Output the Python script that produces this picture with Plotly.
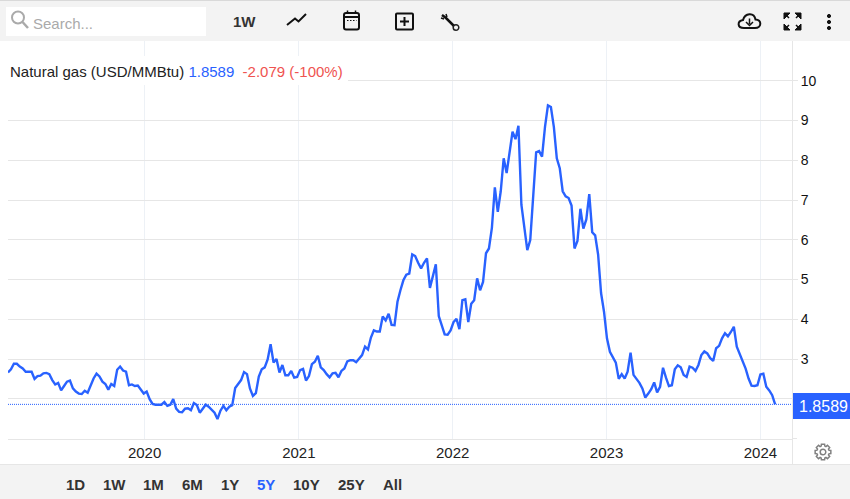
import math
import re
import pandas as pd
import plotly.graph_objects as go

W, H = 850, 499
FONT = "Liberation Sans, Arial, sans-serif"
BLUE = "#2962ff"
GRID = "#e6e6e6"

# weekly closes
first_week = "2019-02-11"
gas_price = [
    2.66, 2.74, 2.88, 2.88, 2.81, 2.76, 2.68, 2.68, 2.68, 2.50, 2.57, 2.58, 2.64, 2.65,
    2.62, 2.47, 2.36, 2.40, 2.21, 2.32, 2.43, 2.46, 2.26, 2.18, 2.13, 2.12, 2.20, 2.15,
    2.32, 2.51, 2.63, 2.56, 2.43, 2.37, 2.23, 2.37, 2.32, 2.73, 2.81, 2.71, 2.68, 2.34,
    2.36, 2.32, 2.33, 2.22, 2.13, 2.18, 1.99, 1.87, 1.85, 1.85, 1.85, 1.92, 1.82, 1.85,
    1.99, 1.75, 1.67, 1.66, 1.75, 1.76, 1.71, 1.89, 1.84, 1.65, 1.75, 1.85, 1.80, 1.73,
    1.65, 1.49, 1.70, 1.82, 1.71, 1.80, 1.84, 2.27, 2.37, 2.47, 2.67, 2.62, 2.26, 2.07,
    2.14, 2.56, 2.74, 2.79, 2.99, 3.37, 2.91, 3.00, 2.66, 2.85, 2.59, 2.59, 2.70, 2.53,
    2.55, 2.72, 2.75, 2.46, 2.57, 2.87, 2.93, 3.08, 2.79, 2.72, 2.62, 2.54, 2.64, 2.65,
    2.54, 2.70, 2.76, 2.94, 2.97, 2.97, 2.92, 3.00, 3.10, 3.31, 3.24, 3.54, 3.72, 3.69,
    3.69, 4.07, 3.97, 4.14, 3.86, 3.85, 4.44, 4.73, 4.98, 5.12, 5.15, 5.63, 5.59, 5.42,
    5.28, 5.42, 5.53, 4.79, 5.07, 5.38, 4.08, 3.85, 3.62, 3.61, 3.72, 3.93, 4.01, 3.75,
    4.48, 4.50, 3.93, 4.39, 4.48, 5.03, 4.73, 4.94, 5.66, 5.78, 6.30, 7.32, 6.70, 7.22,
    8.05, 7.68, 8.22, 8.72, 8.53, 8.87, 6.88, 6.30, 5.74, 5.99, 6.97, 8.20, 8.23, 8.09,
    8.84, 9.38, 9.34, 8.84, 8.05, 7.80, 7.22, 7.09, 7.05, 6.86, 5.78, 5.97, 6.78, 6.28,
    6.51, 7.15, 6.19, 6.11, 5.63, 4.66, 4.19, 3.52, 3.18, 3.04, 2.91, 2.50, 2.62, 2.51,
    2.68, 3.16, 2.60, 2.50, 2.40, 2.26, 2.03, 2.13, 2.24, 2.41, 2.16, 2.30, 2.78, 2.53,
    2.32, 2.34, 2.74, 2.84, 2.79, 2.60, 2.55, 2.81, 2.78, 2.70, 2.85, 3.10, 3.19, 3.14,
    3.02, 2.95, 3.27, 3.33, 3.52, 3.65, 3.57, 3.68, 3.81, 3.31, 3.12, 2.96, 2.76, 2.51,
    2.33, 2.32, 2.34, 2.61, 2.63, 2.30, 2.21, 2.09, 1.8589,
]
last_price = gas_price[-1]
y_ticks = [2, 3, 4, 5, 6, 7, 8, 9, 10]
range_buttons = ["1D", "1W", "1M", "6M", "1Y", "5Y", "10Y", "25Y", "All"]
range_button_x = [75, 114, 153, 192, 230, 266, 306, 351, 392]

weeks = pd.date_range(first_week, periods=len(gas_price), freq="7D")


def px(x, y):
    return x / W, 1 - y / H


def path_px(d):
    # svg path written in screen pixels -> paper coords
    nums = iter(re.findall(r"[A-Za-z]|-?\d+\.?\d*", d))
    out = []
    for tok in nums:
        if tok.isalpha():
            out.append(tok)
        else:
            a, b = px(float(tok), float(next(nums)))
            out.append(f"{a:.5f},{b:.5f}")
    return " ".join(out)


shapes = []


def draw(d, color="#111", width=2, fill=None):
    shapes.append(dict(type="path", xref="paper", yref="paper", path=path_px(d),
                       line=dict(color=color, width=width),
                       fillcolor=fill if fill else "rgba(0,0,0,0)"))


def box(x0, y0, x1, y1, fill, line_color=None, width=0):
    a, b = px(x0, y0)
    c, d = px(x1, y1)
    shapes.append(dict(type="rect", xref="paper", yref="paper", x0=a, y0=b, x1=c, y1=d,
                       fillcolor=fill, line=dict(color=line_color or fill, width=width)))


def circle(cx, cy, r, color="#111", width=2, fill=None):
    a, b = px(cx - r, cy - r)
    c, d = px(cx + r, cy + r)
    shapes.append(dict(type="circle", xref="paper", yref="paper", x0=a, y0=b, x1=c, y1=d,
                       fillcolor=fill if fill else "rgba(0,0,0,0)",
                       line=dict(color=color, width=width)))


# toolbars
box(0, 0, W, 41, "#f3f3f3")
box(0, 0, W, 1, "#d9d9d9")
box(6, 7, 206, 36, "#ffffff")
box(0, 464, W, H, "#f3f3f3")
box(0, 464, W, 465, GRID)
box(792, 41, 793, 464, GRID)
box(792, 438, 797, 439, GRID)
# legend background cuts the grid
box(8, 56, 348, 85, "#ffffff")

# price line + tag
shapes.append(dict(type="line", xref="paper", yref="y", x0=8 / W, x1=792 / W,
                   y0=last_price, y1=last_price, line=dict(color=BLUE, width=1, dash="1px,1px")))
box(793, 393, W, 419, BLUE)

# search
circle(18, 17.5, 6, "#aaaaaa", 2)
draw("M 22.5 22 L 28 28", "#aaaaaa", 2.5)
# trend
draw("M 287 25 L 295 18.5 L 298.5 21.5 L 306 14", "#111", 2)
# calendar
draw("M 346 13 L 357 13 Q 359 13 359 15 L 359 27.5 Q 359 29.5 357 29.5 L 346 29.5 "
     "Q 344 29.5 344 27.5 L 344 15 Q 344 13 346 13 Z", "#111", 2)
draw("M 344 17 L 359 17", "#111", 2)
draw("M 347.5 10.5 L 347.5 14 M 355.5 10.5 L 355.5 14", "#111", 1.5)
shapes.append(dict(type="line", xref="paper", yref="paper",
                   x0=347 / W, x1=356.5 / W, y0=1 - 20.5 / H, y1=1 - 20.5 / H,
                   line=dict(color="#111", width=1.2, dash="1.5px,1.5px")))
# plus
draw("M 397 13.5 L 412 13.5 Q 413 13.5 413 14.5 L 413 28.5 Q 413 29.5 412 29.5 L 397 29.5 "
     "Q 396 29.5 396 28.5 L 396 14.5 Q 396 13.5 397 13.5 Z", "#111", 2)
draw("M 404.5 17 L 404.5 26 M 400 21.5 L 409 21.5", "#111", 2)
# wrench
draw("M 442 15 L 446 18 L 454 26", "#111", 2.5)
draw("M 441 18 L 444 19 M 446 14 L 447 17", "#111", 1.5)
circle(456, 27.5, 2.8, "#222", 1.5)
# cloud download
draw("M 744 28 C 737 28 737 21 743 20 C 745 13 754 12 755.5 19.5 C 762 19.5 762 28 755 28 Z", "#111", 2)
draw("M 749.5 18.5 L 749.5 24 M 746 22 L 749.5 25.5 L 753 22", "#111", 1.5)
# full screen
draw("M 784 13 L 790 13 L 784 19 Z M 801 13 L 795 13 L 801 19 Z M 784 30 L 790 30 L 784 24 Z M 801 30 L 795 30 L 801 24 Z",
     "#111", 1, "#111")
draw("M 785 14 L 789 18 M 800 14 L 796 18 M 785 29 L 789 25 M 800 29 L 796 25", "#111", 1.5)
for dot_y in [16, 22, 28]:
    circle(829, dot_y, 1.6, "#111", 1, "#111")
# gear
gear = []
for i in range(8):
    a = i * math.pi / 4
    for da, r in [(-0.30, 6.2), (-0.20, 8), (0.20, 8), (0.30, 6.2)]:
        gear.append((823 + r * math.cos(a + da), 452 + r * math.sin(a + da)))
draw("M " + " L ".join(f"{x:.2f} {y:.2f}" for x, y in gear) + " Z", "#808080", 1.5)
circle(823, 452, 2.8, "#808080", 1.5)

notes = []


def label(x, y, text, size=14, color="#333", bold=False, anchor="center"):
    a, b = px(x, y)
    notes.append(dict(x=a, y=b, xref="paper", yref="paper", showarrow=False, xanchor=anchor,
                      yanchor="middle", text=f"<b>{text}</b>" if bold else text,
                      font=dict(family=FONT, size=size, color=color)))


label(31, 23.5, "Search...", 15, "#aaaaaa", anchor="left")
label(244, 21, "1W", 15, "#333", True)
for name, bx in zip(range_buttons, range_button_x):
    label(bx, 484.5, name, 15, BLUE if name == "5Y" else "#333", True)
label(8, 71.5,
      'Natural gas (USD/MMBtu) <span style="color:#2962ff">1.8589</span>'
      '  <span style="color:#ef5350">-2.079 (-100%)</span>', 15, "#222", anchor="left")
label(823, 406, "1.8589", 16, "#ffffff")

fig = go.Figure(go.Scatter(x=weeks, y=gas_price, mode="lines",
                           line=dict(color=BLUE, width=2.4), hoverinfo="x+y"))
fig.update_layout(
    width=W, height=H, margin=dict(l=0, r=0, t=0, b=0), autosize=False,
    paper_bgcolor="#ffffff", plot_bgcolor="#ffffff", showlegend=False,
    font=dict(family=FONT, size=14, color="#222"),
    shapes=shapes, annotations=notes,
    xaxis=dict(domain=[8 / W, 792 / W], range=["2019-02-11", "2024-03-16"], type="date",
               tick0="2020-01-01", dtick="M12", tickformat="%Y", ticks="",
               showgrid=True, gridcolor="#edf1f6", gridwidth=1, showline=True,
               linecolor=GRID, linewidth=1, zeroline=False,
               tickfont=dict(family=FONT, size=15, color="#222")),
    yaxis=dict(domain=[1 - 438.5 / H, 1 - 41 / H], range=[1, 11], side="right",
               tickvals=y_ticks, ticks="outside", ticklen=5, tickcolor=GRID,
               showgrid=True, gridcolor=GRID, gridwidth=1, zeroline=False, showline=False,
               tickfont=dict(family=FONT, size=14, color="#111")),
)
# page body has a default 8px margin, drop it so the chart fills the window
fig.write_html("out.html", config={"displayModeBar": False},
               post_script="document.body.style.margin='0';")
